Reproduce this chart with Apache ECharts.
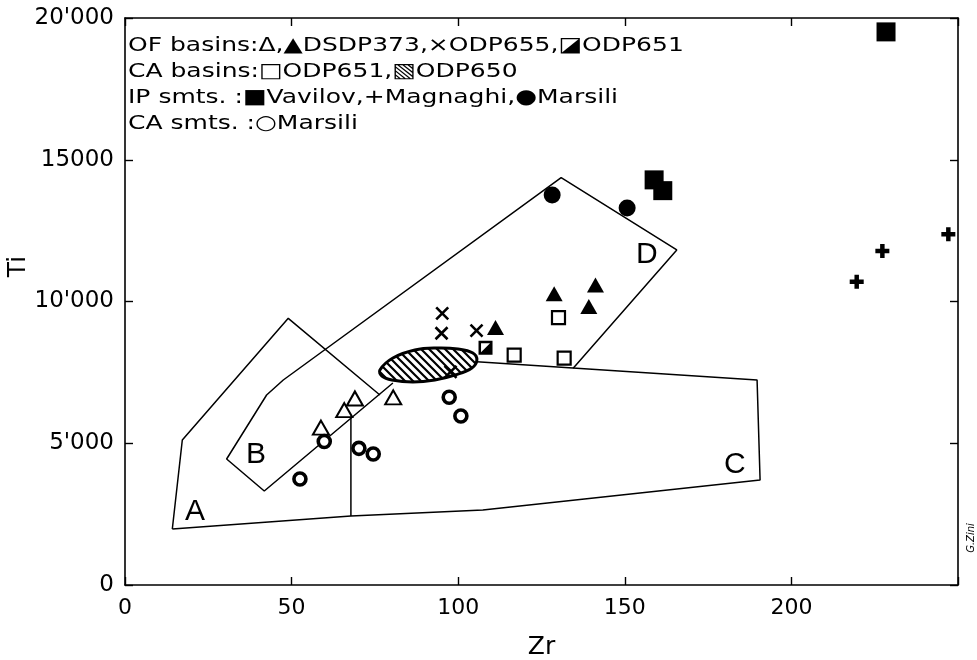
<!DOCTYPE html>
<html><head><meta charset="utf-8">
<script src="https://cdn.jsdelivr.net/npm/echarts@6/dist/echarts.min.js"></script>
<style>html,body{margin:0;padding:0;background:#fff}#c{width:977px;height:660px}</style>
</head><body><div id="c"></div>
<script>
// ---- axis ticks ----
const xTickValues = [0, 50, 100, 150, 200, 250];
const xTickLabels = ['0', '50', '100', '150', '200', ''];
const yTickValues = [0, 5000, 10000, 15000, 20000];
const yTickLabels = ['0', "5'000", "10'000", '15000', "20'000"];

// ---- sample data [Zr, Ti] ----
const ofOpenTri = [[58.8, 5550], [65.8, 6170], [69.0, 6580], [80.5, 6620]];           // OF basins open triangles
const ofDSDP373 = [[111.2, 9080], [128.8, 10270], [139.2, 9820], [141.2, 10580]];      // filled triangles
const ofODP655 = [[95.2, 9580], [95.0, 8880], [105.5, 8970], [97.7, 7520]];            // crosses
const ofODP651 = [[108.2, 8370]];                                                      // half-filled square
const caODP651 = [[116.8, 8110], [130.1, 9430], [131.8, 8000]];                        // open squares
const ipVavilov = [[158.8, 14290], [161.4, 13910], [228.4, 19510]];                    // filled squares
const ipMagnaghi = [[219.6, 10700], [227.3, 11780], [247.1, 12370]];                   // plus
const ipMarsili = [[128.2, 13760], [150.7, 13300]];                                    // filled circles
const caMarsili = [[52.5, 3740], [59.8, 5060], [70.2, 4820], [74.5, 4620], [97.3, 6620], [100.8, 5960]]; // open circles

// ODP650 field outline (hatched)
const odp650Zr = [76.5, 80.4, 87.0, 93.6, 99.9, 104.4, 105.6, 104.1, 99.0, 93.0, 86.4, 80.1, 77.1];
const odp650Ti = [7584, 8007, 8289, 8360, 8325, 8183, 7937, 7654, 7407, 7231, 7160, 7231, 7372];

// ---- discrimination field boundaries ----
const fieldAOuter = [[14.2, 1975], [17.2, 5115], [49.0, 9407], [76.5, 6702]];
const fieldBD = [[80.4, 7125], [41.8, 3316], [30.5, 4444], [42.5, 6702], [47.5, 7231], [130.9, 14367], [165.6, 11817], [134.5, 7644]];
const fieldC = [[105.6, 7877], [189.7, 7231], [190.6, 3704], [107.4, 2646], [67.8, 2434], [14.2, 1975]];
const fieldDivider = [[67.8, 5890], [67.8, 2434]];
const fieldLetters = [[21, 2575, 'A'], [39.3, 4585, 'B'], [183, 4233, 'C'], [156.6, 11640, 'D']];

const legendLines = [
  'OF basins:\u0394,\u25B2DSDP373,\u00D7ODP655,\u25EAODP651',
  'CA basins:\u25A1ODP651,\u25A7ODP650',
  'IP smts. :\u25A0Vavilov,+Magnaghi,\u25CFMarsili',
  'CA smts. :\u25CBMarsili'
];

function hatchCanvas() {
  const c = document.createElement('canvas');
  c.width = 8; c.height = 8;
  const g = c.getContext('2d');
  g.fillStyle = '#fff'; g.fillRect(0, 0, 8, 8);
  g.strokeStyle = '#000'; g.lineWidth = 2.2;
  g.beginPath();
  g.moveTo(-2, -2); g.lineTo(10, 10);
  g.moveTo(-2, 6); g.lineTo(2, 10);
  g.moveTo(6, -2); g.lineTo(10, 2);
  g.stroke();
  return c;
}
const hatch = hatchCanvas();

const FONT = '"DejaVu Sans", Arial, sans-serif';
const chart = echarts.init(document.getElementById('c'), null, {renderer: 'canvas'});

const axisCommon = {
  axisLine: {show: true, onZero: false, lineStyle: {color: '#000', width: 1.6}},
  axisTick: {show: true, inside: true, length: 8, lineStyle: {color: '#000', width: 1.4}},
  splitLine: {show: false}
};

function lineSeries(data) {
  return {type: 'line', data: data, showSymbol: false, symbol: 'none', silent: true, z: 2,
    lineStyle: {color: '#000', width: 1.5}, animation: false};
}
function scatter(name, data, symbol, size, itemStyle) {
  return {name: name, type: 'scatter', data: data, symbol: symbol, symbolSize: size, z: 5,
    itemStyle: Object.assign({opacity: 1}, itemStyle), animation: false};
}

const option = {
  animation: false,
  backgroundColor: '#fff',
  grid: {left: 125, right: 19, top: 18, bottom: 75, containLabel: false, outerBoundsMode: 'none'},
  xAxis: [
    Object.assign({type: 'value', min: 0, max: 250, interval: 50, position: 'bottom',
      name: 'Zr', nameLocation: 'middle', nameGap: 50, nameMoveOverlap: false,
      nameTextStyle: {fontFamily: FONT, fontSize: 25, color: '#000'},
      axisLabel: {color: '#000', fontFamily: FONT, fontSize: 22, margin: 12,
        formatter: v => { const i = xTickValues.indexOf(v); return i >= 0 ? xTickLabels[i] : ''; }}
    }, axisCommon),
    Object.assign({type: 'value', min: 0, max: 250, interval: 50, position: 'top', axisLabel: {show: false}}, axisCommon)
  ],
  yAxis: [
    Object.assign({type: 'value', min: 0, max: 20000, interval: 5000, position: 'left',
      name: 'Ti', nameLocation: 'middle', nameGap: 94, nameMoveOverlap: false,
      nameTextStyle: {fontFamily: FONT, fontSize: 25, color: '#000', padding: [0, 0, 0, 70]},
      axisLabel: {color: '#000', fontFamily: FONT, fontSize: 23, margin: 11,
        formatter: v => { const i = yTickValues.indexOf(v); return i >= 0 ? yTickLabels[i] : ''; }}
    }, axisCommon),
    Object.assign({type: 'value', min: 0, max: 20000, interval: 5000, position: 'right', axisLabel: {show: false}}, axisCommon)
  ],
  graphic: legendLines.map((t, i) => ({
    type: 'text', x: 128, y: 46 + i * 26, scaleX: 1.25, silent: true,
    style: {text: t, font: '20px ' + FONT, fill: '#000', verticalAlign: 'middle', textVerticalAlign: 'middle'}
  })).concat([{
    type: 'text', x: 971, y: 538, rotation: Math.PI / 2, silent: true,
    style: {text: 'G.Zini', font: 'italic 10px ' + FONT, fill: '#000', align: 'center', textAlign: 'center', verticalAlign: 'middle', textVerticalAlign: 'middle'}
  }]),
  series: [
    lineSeries(fieldAOuter),
    lineSeries(fieldBD),
    lineSeries(fieldC),
    lineSeries(fieldDivider),
    {type: 'custom', silent: true, z: 3, animation: false,
      data: [[odp650Zr[0], odp650Ti[0]]],
      renderItem: function (params, api) {
        const pts = odp650Zr.map((z, i) => api.coord([z, odp650Ti[i]]));
        return {type: 'polygon', shape: {points: pts, smooth: 0.4},
          style: {fill: {image: hatch, repeat: 'repeat'}, stroke: '#000', lineWidth: 3}};
      }},
    {type: 'scatter', data: fieldLetters, symbolSize: 1, silent: true, z: 4,
      itemStyle: {color: 'rgba(0,0,0,0)', opacity: 1},
      label: {show: true, position: 'inside', formatter: p => p.value[2],
        fontFamily: '"Liberation Sans", Arial, sans-serif', fontSize: 30, color: '#000'}},
    scatter('OF open', ofOpenTri, 'triangle', [16, 14], {color: '#fff', borderColor: '#000', borderWidth: 2}),
    scatter('DSDP373', ofDSDP373, 'triangle', [17, 15], {color: '#000'}),
    scatter('ODP655', ofODP655, 'path://M0,0L10,10M10,0L0,10', 12, {color: '#000', borderColor: '#000', borderWidth: 2.6}),
    scatter('ODP651 OF', ofODP651, 'path://M0,0L10,0L10,10L0,10ZM1.8,1.8L1.8,8.2L8.2,8.2L8.2,1.8ZM8.2,1.8L8.2,8.2L1.8,8.2Z', 14, {color: '#000'}),
    scatter('ODP651 CA', caODP651, 'rect', 13, {color: '#fff', borderColor: '#000', borderWidth: 2.2}),
    scatter('Vavilov', ipVavilov, 'rect', 19, {color: '#000'}),
    scatter('Magnaghi', ipMagnaghi, 'path://M3.4,0H6.6V3.4H10V6.6H6.6V10H3.4V6.6H0V3.4H3.4Z', 14, {color: '#000'}),
    scatter('Marsili IP', ipMarsili, 'circle', 17, {color: '#000'}),
    scatter('Marsili CA', caMarsili, 'circle', 12, {color: '#fff', borderColor: '#000', borderWidth: 3.6})
  ]
};
chart.setOption(option);
</script>
</body></html>
